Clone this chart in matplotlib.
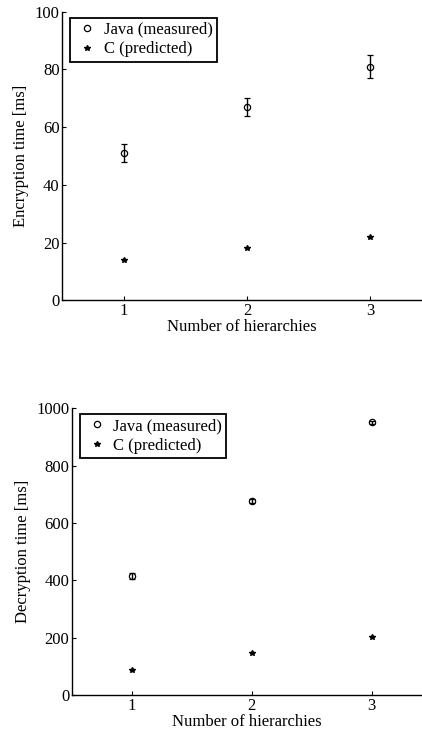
import numpy as np
import matplotlib
matplotlib.use('Agg')
import matplotlib.pyplot as plt
from matplotlib.lines import Line2D

plt.rcParams['font.family'] = ['Liberation Serif', 'DejaVu Serif']
plt.rcParams['font.size'] = 12

# data
hier = [1, 2, 3]
enc_java = [51, 67, 81]
enc_java_err = [3, 3, 4]
enc_c = [14, 18, 22]
dec_java = [415, 677, 950]
dec_java_err = [9, 6, 6]
dec_c = [87, 145, 203]
labels = ['Java (measured)', 'C (predicted)']


def style_axes(ax, ylim, yticks, ylabel):
    ax.set_xlim(0.5, 3.42)
    ax.set_ylim(*ylim)
    ax.set_xticks(hier)
    ax.set_yticks(yticks)
    ax.spines['top'].set_visible(False)
    ax.spines['right'].set_visible(False)
    for s in ['left', 'bottom']:
        ax.spines[s].set_linewidth(1.0)
    ax.tick_params(direction='in', length=3, width=0.8, pad=2)
    ax.set_xlabel('Number of hierarchies', labelpad=0)
    ax.set_ylabel(ylabel, labelpad=4)
    # legend shows only the markers, as in the original
    handles = [Line2D([], [], ls='none', marker='o', mfc='none', mec='black', ms=4.5, mew=0.9),
               Line2D([], [], ls='none', marker='*', color='black', ms=4)]
    leg = ax.legend(handles, labels, loc='upper left', bbox_to_anchor=(0.022, 0.98),
                    fancybox=False, framealpha=1, edgecolor='black',
                    borderpad=0.25, handletextpad=0.25, handlelength=1.5,
                    labelspacing=0.22, borderaxespad=0)
    leg.get_frame().set_linewidth(1.3)


fig = plt.figure(figsize=(4.22, 7.34), dpi=100)

ax1 = fig.add_axes([0.148, 0.591, 0.852, 0.393])
ax1.errorbar(hier, enc_java, yerr=enc_java_err, fmt='o', mfc='none', mec='black',
             ecolor='black', ms=4.5, mew=0.9, capsize=2.5, elinewidth=1)
ax1.plot(hier, enc_c, '*', color='black', ms=4)
style_axes(ax1, (0, 100), [0, 20, 40, 60, 80, 100], 'Encryption time [ms]')

ax2 = fig.add_axes([0.171, 0.053, 0.829, 0.391])
ax2.errorbar(hier, dec_java, yerr=dec_java_err, fmt='o', mfc='none', mec='black',
             ecolor='black', ms=4.5, mew=0.9, capsize=2, elinewidth=1)
ax2.plot(hier, dec_c, '*', color='black', ms=4)
style_axes(ax2, (0, 1000), [0, 200, 400, 600, 800, 1000], 'Decryption time [ms]')

fig.savefig('out.png', dpi=100)
